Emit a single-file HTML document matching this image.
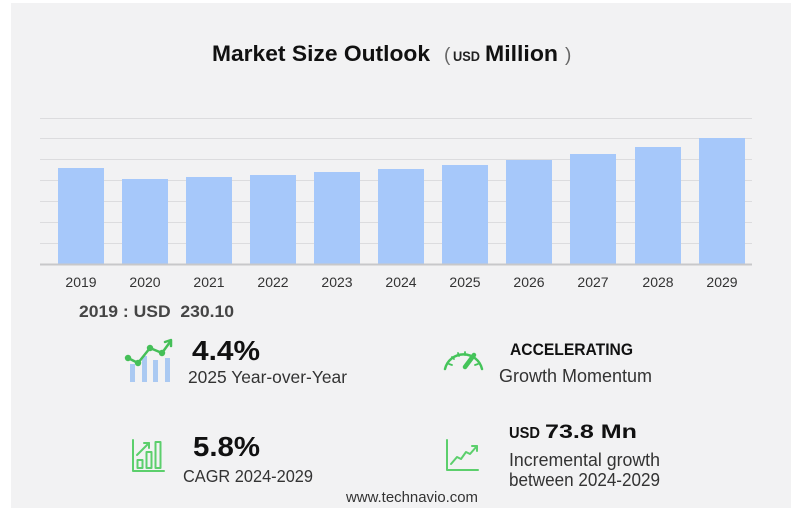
<!DOCTYPE html>
<html>
<head>
<meta charset="utf-8">
<style>
html,body{margin:0;padding:0;background:#ffffff;}
body{width:802px;height:516px;overflow:hidden;}
svg{display:block;font-family:"Liberation Sans",Arial,sans-serif;}
</style>
</head>
<body>
<svg width="802" height="516" viewBox="0 0 802 516" xmlns="http://www.w3.org/2000/svg">
  <!-- panel -->
  <rect x="11" y="3" width="780" height="505" fill="#f2f2f3"/>

  <!-- title -->
  <text x="212" y="61" font-size="22.5" font-weight="bold" fill="#111" textLength="218" lengthAdjust="spacingAndGlyphs">Market Size Outlook</text>
  <text x="444" y="61" font-size="19" fill="#666">(</text>
  <text x="453" y="61" font-size="14" font-weight="bold" fill="#222" textLength="27" lengthAdjust="spacingAndGlyphs">USD</text>
  <text x="485" y="61" font-size="22.5" font-weight="bold" fill="#111" textLength="73" lengthAdjust="spacingAndGlyphs">Million</text>
  <text x="565" y="61" font-size="19" fill="#666">)</text>

  <!-- gridlines -->
  <g stroke="#dcdcde" stroke-width="1">
    <line x1="40" y1="118.5" x2="752" y2="118.5"/>
    <line x1="40" y1="138.5" x2="752" y2="138.5"/>
    <line x1="40" y1="159.5" x2="752" y2="159.5"/>
    <line x1="40" y1="180.5" x2="752" y2="180.5"/>
    <line x1="40" y1="201.5" x2="752" y2="201.5"/>
    <line x1="40" y1="222.5" x2="752" y2="222.5"/>
    <line x1="40" y1="243.5" x2="752" y2="243.5"/>
  </g>

  <!-- bars -->
  <g fill="#a6c8fa">
    <rect x="58" y="168" width="46" height="96"/>
    <rect x="122" y="179" width="46" height="85"/>
    <rect x="186" y="177" width="46" height="87"/>
    <rect x="250" y="175" width="46" height="89"/>
    <rect x="314" y="172" width="46" height="92"/>
    <rect x="378" y="169" width="46" height="95"/>
    <rect x="442" y="165" width="46" height="99"/>
    <rect x="506" y="160" width="46" height="104"/>
    <rect x="570" y="154" width="46" height="110"/>
    <rect x="635" y="147" width="46" height="117"/>
    <rect x="699" y="138" width="46" height="126"/>
  </g>
  <line x1="40" y1="264.5" x2="752" y2="264.5" stroke="#c8c8ca" stroke-width="2"/>

  <!-- year labels -->
  <g font-size="14" fill="#333" text-anchor="middle">
    <text x="81" y="287">2019</text>
    <text x="145" y="287">2020</text>
    <text x="209" y="287">2021</text>
    <text x="273" y="287">2022</text>
    <text x="337" y="287">2023</text>
    <text x="401" y="287">2024</text>
    <text x="465" y="287">2025</text>
    <text x="529" y="287">2026</text>
    <text x="593" y="287">2027</text>
    <text x="658" y="287">2028</text>
    <text x="722" y="287">2029</text>
  </g>

  <!-- 2019 value -->
  <text x="79" y="317" font-size="16.5" font-weight="bold" fill="#454545" textLength="155" lengthAdjust="spacingAndGlyphs" xml:space="preserve">2019 : USD  230.10</text>

  <!-- icon 1: YoY -->
  <g fill="#aac9f2">
    <rect x="130" y="364" width="5" height="18"/>
    <rect x="142" y="356" width="5" height="26"/>
    <rect x="153" y="360" width="5" height="22"/>
    <rect x="165" y="358" width="5" height="24"/>
  </g>
  <g stroke="#45bf58" stroke-width="2.5" fill="none" stroke-linecap="round" stroke-linejoin="round">
    <polyline points="128,358 138,363 150,348 162,353 170,342"/>
    <polyline points="165,342 171,340 171,346"/>
  </g>
  <g fill="#45bf58">
    <circle cx="128" cy="358" r="3.2"/>
    <circle cx="138" cy="363" r="3.2"/>
    <circle cx="150" cy="348" r="3.2"/>
    <circle cx="162" cy="353" r="3.2"/>
  </g>

  <text x="192" y="360" font-size="28" font-weight="bold" fill="#111" textLength="68" lengthAdjust="spacingAndGlyphs">4.4%</text>
  <text x="188" y="383" font-size="17.5" fill="#333" textLength="159" lengthAdjust="spacingAndGlyphs">2025 Year-over-Year</text>

  <!-- icon 2: CAGR -->
  <g stroke="#5ccf6c" stroke-width="2" fill="none" stroke-linejoin="round" stroke-linecap="round">
    <polyline points="133,440 133,471 164,471"/>
    <rect x="137.5" y="460" width="5" height="8"/>
    <rect x="146.5" y="452" width="5" height="16"/>
    <rect x="155.5" y="442" width="5" height="26"/>
    <line x1="137" y1="455" x2="149" y2="443"/>
    <polyline points="144,443 149,443 149,448"/>
  </g>

  <text x="193" y="456" font-size="28" font-weight="bold" fill="#111" textLength="67" lengthAdjust="spacingAndGlyphs">5.8%</text>
  <text x="183" y="482" font-size="17.5" fill="#333" textLength="130" lengthAdjust="spacingAndGlyphs">CAGR 2024-2029</text>

  <!-- icon 3: gauge -->
  <g stroke="#45c45a" fill="none" stroke-linecap="round">
    <path d="M445,369 A19,19 0 0 1 482,369" stroke-width="2.5"/>
    <line x1="449" y1="364" x2="452" y2="365" stroke-width="1.8"/>
    <line x1="452" y1="357" x2="454" y2="359" stroke-width="1.8"/>
    <line x1="458" y1="353" x2="459" y2="356" stroke-width="1.8"/>
    <line x1="465" y1="352" x2="465" y2="355" stroke-width="1.8"/>
    <line x1="478" y1="364" x2="475" y2="365" stroke-width="1.8"/>
    <line x1="465" y1="367" x2="474" y2="355" stroke-width="4.5"/>
  </g>

  <text x="510" y="355" font-size="17" font-weight="bold" fill="#111" textLength="123" lengthAdjust="spacingAndGlyphs">ACCELERATING</text>
  <text x="499" y="382" font-size="18" fill="#333" textLength="153" lengthAdjust="spacingAndGlyphs">Growth Momentum</text>

  <!-- icon 4: incremental -->
  <g stroke="#5ccf6c" stroke-width="2" fill="none" stroke-linejoin="round" stroke-linecap="round">
    <polyline points="447,440 447,470 478,470"/>
    <polyline points="451,464 457,457 461,459 466,452 470,454 477,446"/>
    <polyline points="472,446 477,446 477,451"/>
  </g>

  <text x="509" y="438" font-size="16" font-weight="bold" fill="#111" textLength="31" lengthAdjust="spacingAndGlyphs">USD</text>
  <text x="545" y="438" font-size="19.5" font-weight="bold" fill="#111" textLength="92" lengthAdjust="spacingAndGlyphs">73.8 Mn</text>
  <text x="509" y="466" font-size="18" fill="#333" textLength="151" lengthAdjust="spacingAndGlyphs">Incremental growth</text>
  <text x="509" y="486" font-size="18" fill="#333" textLength="151" lengthAdjust="spacingAndGlyphs">between 2024-2029</text>

  <text x="346" y="502" font-size="14.5" fill="#333" textLength="132" lengthAdjust="spacingAndGlyphs">www.technavio.com</text>
</svg>
</body>
</html>
